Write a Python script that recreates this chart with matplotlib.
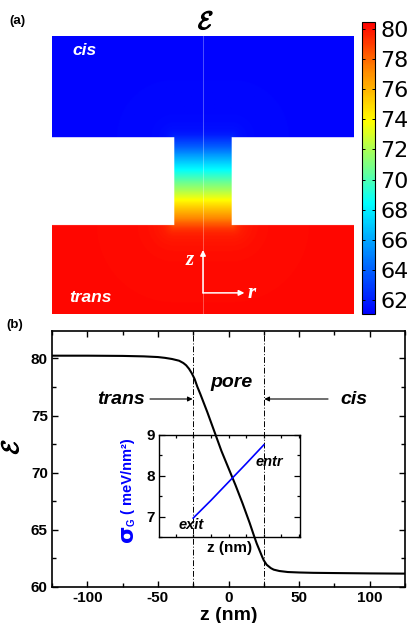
import numpy as np
import matplotlib
matplotlib.use('Agg')
import matplotlib.pyplot as plt
import matplotlib.patheffects as pe
from matplotlib.colors import LinearSegmentedColormap, Normalize
from matplotlib.ticker import MultipleLocator

plt.rcParams['font.family'] = 'Liberation Sans'
plt.rcParams['font.weight'] = 'bold'
plt.rcParams['axes.unicode_minus'] = False

# permittivity profile along the pore axis
z_nm = [-125, -100, -75, -60, -50, -45, -40, -35, -32, -30, -28, -26, -24, -22,
        -20, -15, -10, -5, 0, 5, 10, 15, 18, 20, 22, 24, 25, 27, 30, 32, 36,
        42, 50, 60, 75, 100, 125]
eps = [80.24, 80.24, 80.22, 80.18, 80.12, 80.05, 79.95, 79.8, 79.6, 79.4, 79.1,
       78.7, 78.2, 77.5, 76.9, 75.3, 73.6, 71.9, 70.4, 68.9, 67.3, 65.6, 64.5,
       63.8, 63.2, 62.6, 62.33, 61.95, 61.65, 61.52, 61.4, 61.31, 61.27, 61.24,
       61.22, 61.19, 61.17]

# inset: surface charge density inside the pore
z_sig = [-25, -12.5, 0, 12.5, 25]
sigma_g = [6.97, 7.40, 7.85, 8.30, 8.76]

cbar_ticks = [62, 64, 66, 68, 70, 72, 74, 76, 78, 80]

# geometry of panel a (nm)
pore_len = 50.0
pore_r = 16.5
r_max = 86.0
z_top, z_bot = 82.4, -75.6

W, H = 413, 623
fig = plt.figure(figsize=(W / 100, H / 100), dpi=100)

# ---- panel (a): epsilon map
ax_map = fig.add_axes([52 / W, 1 - 314 / H, 302 / W, 278 / H])
r = np.linspace(-r_max, r_max, 400)
zz = np.linspace(z_bot, z_top, 500)
R, Z = np.meshgrid(r, zz)
half = pore_len / 2
dr = np.clip(np.abs(R) - pore_r, 0, None)
field = np.full(R.shape, np.nan)
in_pore = (np.abs(Z) <= half) & (np.abs(R) <= pore_r)
in_cis = Z > half
in_trans = Z < -half
field[in_pore] = np.interp(Z[in_pore], z_nm, eps)
# reservoirs: relax towards bulk with distance from the pore mouth
d_cis = np.hypot(dr, Z - half)
field[in_cis] = np.interp(half + 1.5 * d_cis[in_cis], z_nm, eps)
d_tr = np.hypot(dr, Z + half)
field[in_trans] = np.interp(-half - 1.5 * d_tr[in_trans], z_nm, eps)

cmap = LinearSegmentedColormap.from_list('rainbow_c', [
    (0.0, (0.0, 0.0, 1.0)),
    (0.18, (0.0, 0.45, 1.0)),
    (0.38, (0.0, 1.0, 1.0)),
    (0.5, (0.45, 1.0, 0.55)),
    (0.66, (1.0, 1.0, 0.0)),
    (0.83, (1.0, 0.55, 0.0)),
    (1.0, (1.0, 0.0, 0.0))])
cmap.set_bad('white')
im = ax_map.imshow(np.ma.masked_invalid(field), origin='lower',
                   extent=[-r_max, r_max, z_bot, z_top], aspect='auto',
                   cmap=cmap, norm=Normalize(61.07, 80.46))
ax_map.set_xlim(-r_max, r_max)
ax_map.set_ylim(z_bot, z_top)
ax_map.axis('off')
ax_map.axvline(0, color='white', lw=0.6, alpha=0.35)

ax_map.text(-74.6, 74.4, 'cis', color='white', fontsize=12.5, style='italic',
            fontweight='bold', ha='left', va='center')
ax_map.text(-76.3, -66.5, 'trans', color='white', fontsize=12.5, style='italic',
            fontweight='bold', ha='left', va='center')
arw = dict(arrowstyle='-|>', color='white', lw=1.1, mutation_scale=8,
           shrinkA=0, shrinkB=0)
ax_map.annotate('', xy=(0, -39.2), xytext=(0, -63.6), arrowprops=arw)
ax_map.annotate('', xy=(23.6, -63.6), xytext=(0, -63.6), arrowprops=arw)
ax_map.text(-7.7, -44.9, 'z', color='white', fontsize=15, style='italic',
            fontweight='bold', family='Liberation Serif', ha='center', va='center')
ax_map.text(25.5, -63.6, 'r', color='white', fontsize=15, style='italic',
            fontweight='bold', family='Liberation Serif', ha='left', va='center')

fig.text(206 / W, 1 - 22 / H, r'$\mathcal{E}$', math_fontfamily='cm',
         fontsize=18, ha='center', va='center',
         path_effects=[pe.withStroke(linewidth=0.9, foreground='k')])

cax = fig.add_axes([362 / W, 1 - 314 / H, 13 / W, 292 / H])
cb = fig.colorbar(im, cax=cax, ticks=cbar_ticks)
cb.outline.set_linewidth(0.8)
cb.ax.tick_params(labelsize=16, direction='in', length=2.5, width=0.7,
                  left=True, right=True, pad=4)
for t in cb.ax.get_yticklabels():
    t.set_fontweight('normal')
    t.set_fontfamily('DejaVu Sans')

# ---- panel (b): profile along z
ax = fig.add_axes([52 / W, 1 - 587 / H, 353 / W, 256 / H])
ax.plot(z_nm, eps, color='k', lw=1.5)
for zv in (-half, half):
    ax.axvline(zv, color='k', lw=0.7, ls=(0, (6, 2, 1, 2)))
ax.set_xlim(-125, 125)
ax.set_ylim(60, 82.4)
ax.xaxis.set_major_locator(MultipleLocator(50))
ax.xaxis.set_minor_locator(MultipleLocator(25))
ax.yaxis.set_major_locator(MultipleLocator(5))
ax.yaxis.set_minor_locator(MultipleLocator(2.5))
ax.tick_params(which='both', direction='in', top=True, right=True, width=1.0)
ax.tick_params(which='major', length=4, labelsize=11, pad=3)
ax.tick_params(which='minor', length=3)
for t in ax.get_xticklabels() + ax.get_yticklabels():
    t.set_fontweight('bold')
for s in ax.spines.values():
    s.set_linewidth(1.2)
ax.set_xlabel('z (nm)', fontsize=14, fontweight='bold', labelpad=1)
ax.set_ylabel(r'$\mathcal{E}$', math_fontfamily='cm', fontsize=17,
              path_effects=[pe.withStroke(linewidth=0.8, foreground='k')])
ax.yaxis.set_label_coords(-0.082, 0.548)

ax.text(2.3, 77.9, 'pore', fontsize=14, style='italic', fontweight='bold',
        ha='center', va='center')
ax.text(-59, 76.45, 'trans', fontsize=14, style='italic', fontweight='bold',
        ha='right', va='center')
ax.text(79, 76.45, 'cis', fontsize=14, style='italic', fontweight='bold',
        ha='left', va='center')
karw = dict(arrowstyle='-|>', color='k', lw=0.8, mutation_scale=7,
            shrinkA=0, shrinkB=0)
ax.annotate('', xy=(-25.4, 76.45), xytext=(-55.6, 76.45), arrowprops=karw)
ax.annotate('', xy=(25.4, 76.45), xytext=(70.5, 76.45), arrowprops=karw)

fig.text(17 / W, 1 - 21 / H, '(a)', fontsize=9.5, fontweight='bold',
         ha='center', va='center')
fig.text(15 / W, 1 - 325 / H, '(b)', fontsize=9.5, fontweight='bold',
         ha='center', va='center')

# ---- inset
axin = fig.add_axes([159.3 / W, 1 - 537.3 / H, 140.7 / W, 102.3 / H])
axin.patch.set_alpha(0)
axin.plot(z_sig, sigma_g, color='blue', lw=1.2)
axin.set_xlim(-49, 50.6)
axin.set_ylim(6.5, 9)
axin.xaxis.set_major_locator(MultipleLocator(12.5))
axin.yaxis.set_major_locator(MultipleLocator(1))
axin.yaxis.set_minor_locator(MultipleLocator(0.5))
axin.tick_params(which='both', direction='in', top=True, right=True, width=0.9)
axin.tick_params(axis='x', which='major', length=2.5, labelbottom=False)
axin.tick_params(axis='y', which='major', length=4, labelsize=11, pad=3)
axin.tick_params(axis='y', which='minor', length=2.5)
for t in axin.get_yticklabels():
    t.set_fontweight('bold')
for s in axin.spines.values():
    s.set_linewidth(1.0)
axin.set_xlabel('z (nm)', fontsize=11, fontweight='bold', labelpad=3)

# inset y label built from pieces: big sigma, subscript G, units
fig.text(127.5 / W, 1 - 533 / H, '\u03c3', rotation=90, color='blue',
         fontsize=16, fontweight='bold', family='DejaVu Sans',
         ha='center', va='center')
fig.text(132 / W, 1 - 522 / H, 'G', rotation=90, color='blue',
         fontsize=7, fontweight='bold', ha='center', va='center')
fig.text(128 / W, 1 - 476 / H, '( meV/nm\u00b2)', rotation=90, color='blue',
         fontsize=10.5, fontweight='bold', ha='center', va='center')

axin.text(29.2, 8.35, 'entr', fontsize=10.5, style='italic', fontweight='bold',
          ha='center', va='center')
axin.text(-26.1, 6.80, 'exit', fontsize=10.5, style='italic', fontweight='bold',
          ha='center', va='center')

fig.savefig('out.png', dpi=100)
